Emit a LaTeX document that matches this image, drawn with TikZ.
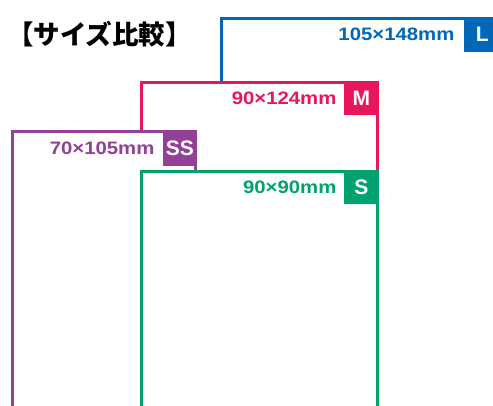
\documentclass[tikz,border=0pt]{standalone}
\usepackage{fontspec}
\setmainfont{Liberation Sans}
\newfontfamily\dimfont[FakeStretch=1.13]{Liberation Sans}
\newfontfamily\cjk{Noto Sans CJK JP}
\usetikzlibrary{positioning}

\definecolor{sizeL}{HTML}{0068B7}
\definecolor{sizeM}{HTML}{E8175D}
\definecolor{sizeSS}{HTML}{934098}
\definecolor{sizeS}{HTML}{00A36F}

\tikzset{
  card/.style={draw=#1,fill=white,line width=3pt},
  tag/.style={fill=#1,text=white,font=\bfseries\fontsize{21}{21}\selectfont,
    minimum width=35pt,minimum height=35pt,inner sep=0pt,anchor=north east},
  dim/.style={text=#1,font=\dimfont\bfseries\fontsize{18}{18}\selectfont,inner sep=0pt}
}

\begin{document}
\begin{tikzpicture}[x=1pt,y=-1pt]
  \useasboundingbox (0,0) rectangle (493,405);
  \clip (0,0) rectangle (493,405);

  %title
  \node[anchor=west,inner sep=0pt,font=\cjk\bfseries\fontsize{26.5}{26.5}\selectfont] (title) at (7,34) {【サイズ比較】};

  %L
  \draw[card=sizeL] (221.5,18.5) rectangle (530,430);
  \node[tag=sizeL,minimum width=37pt] (tagL) at (501,17) {L};
  \node[dim=sizeL,left=9pt of tagL] (dimL) {105×148mm};

  %M
  \draw[card=sizeM] (141.5,82.5) rectangle (377.5,430);
  \node[tag=sizeM,minimum height=34pt] (tagM) at (379,81) {M};
  \node[dim=sizeM,left=7pt of tagM] (dimM) {90×124mm};

  %SS
  \draw[card=sizeSS] (12.5,131.5) rectangle (195.5,430);
  \node[tag=sizeSS,minimum width=34pt,minimum height=36pt] (tagSS) at (197,130) {SS};
  \node[dim=sizeSS,left=8pt of tagSS] (dimSS) {70×105mm};

  %S
  \draw[card=sizeS] (141.5,171.5) rectangle (377.5,430);
  \node[tag=sizeS,minimum height=34pt] (tagS) at (379,170) {S};
  \node[dim=sizeS,left=7pt of tagS] (dimS) {90×90mm};
\end{tikzpicture}
\end{document}
